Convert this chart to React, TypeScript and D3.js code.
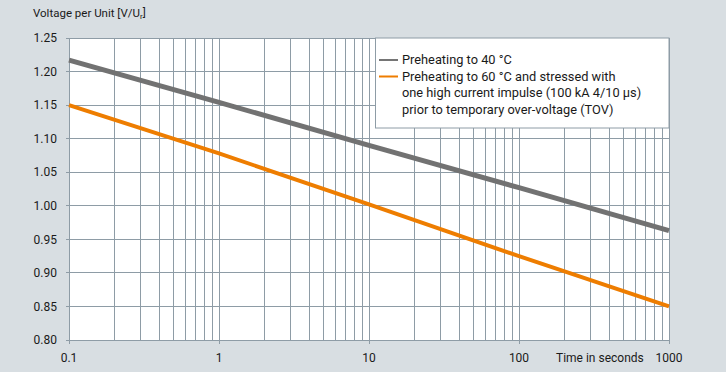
import React, { useEffect, useRef } from 'react';
import { range, scaleLinear, scaleLog, select, line } from 'd3';

const times = [0.1, 1, 10, 100, 1000];
const preheat40 = [1.217, 1.154, 1.09, 1.027, 0.963];
const preheat60 = [1.15, 1.078, 1.002, 0.925, 0.85];
const yTicks = [0.8, 0.85, 0.9, 0.95, 1.0, 1.05, 1.1, 1.15, 1.2, 1.25];
const xTickLabels = ['0.1', '1', '10', '100', '1000'];
const legendLines = [
  'Preheating to 40 °C',
  'Preheating to 60 °C and stressed with',
  'one high current impulse (100 kA 4/10 µs)',
  'prior to temporary over-voltage (TOV)',
];

const W = 726;
const H = 372;
const FONT = 'Roboto, "Noto Sans", sans-serif';
const GRID = '#8e9ca6';

function renderChart(el: SVGSVGElement) {
  const svg = select(el);
  svg.selectAll('*').remove();

  const x = scaleLog().domain([0.1, 1000]).range([69, 669]);
  const y = scaleLinear().domain([0.8, 1.25]).range([340, 38]);

  svg.append('rect').attr('width', W).attr('height', H).attr('fill', '#d8dee2');
  svg
    .append('rect')
    .attr('x', x(0.1))
    .attr('y', y(1.25))
    .attr('width', x(1000) - x(0.1))
    .attr('height', y(0.8) - y(1.25))
    .attr('fill', '#ffffff');

  // vertical grid (decades + minors)
  const xs: number[] = [];
  range(-1, 3).forEach(e => {
    range(1, 10).forEach(m => xs.push(m * Math.pow(10, e)));
  });
  xs.push(1000);
  svg
    .append('g')
    .selectAll('line')
    .data(xs)
    .join('line')
    .attr('x1', d => x(d))
    .attr('x2', d => x(d))
    .attr('y1', y(1.25))
    .attr('y2', d => (times.includes(d) ? y(0.8) + 4 : y(0.8)))
    .attr('stroke', GRID)
    .attr('stroke-width', 1)
    .attr('shape-rendering', 'crispEdges');

  svg
    .append('g')
    .selectAll('line')
    .data(yTicks)
    .join('line')
    .attr('x1', x(0.1) - 3)
    .attr('x2', x(1000))
    .attr('y1', d => y(d))
    .attr('y2', d => y(d))
    .attr('stroke', GRID)
    .attr('stroke-width', 1)
    .attr('shape-rendering', 'crispEdges');

  // legend box (covers grid)
  const lg = svg.append('g');
  lg.append('rect')
    .attr('x', 375.5)
    .attr('y', y(1.25))
    .attr('width', x(1000) - 375.5)
    .attr('height', 90)
    .attr('fill', '#ffffff')
    .attr('stroke', GRID);
  lg.selectAll('text')
    .data(legendLines)
    .join('text')
    .attr('x', 402)
    .attr('y', (_, i) => 60 + i * 16.5)
    .attr('dy', '0.35em')
    .attr('font-family', FONT)
    .attr('font-size', 12.8)
    .attr('fill', '#1a1a1a')
    .text(d => d);
  lg.append('line')
    .attr('x1', 379).attr('x2', 398).attr('y1', 60).attr('y2', 60)
    .attr('stroke', '#757575').attr('stroke-width', 2);
  lg.append('line')
    .attr('x1', 379).attr('x2', 398).attr('y1', 76.5).attr('y2', 76.5)
    .attr('stroke', '#ee7d00').attr('stroke-width', 2);

  const path = line<number>()
    .x((_, i) => x(times[i]))
    .y(d => y(d));

  svg.append('path')
    .attr('d', path(preheat40))
    .attr('fill', 'none')
    .attr('stroke', '#727272')
    .attr('stroke-width', 5);
  svg.append('path')
    .attr('d', path(preheat60))
    .attr('fill', 'none')
    .attr('stroke', '#ee7d00')
    .attr('stroke-width', 4);

  // y tick labels
  svg.append('g')
    .selectAll('text')
    .data(yTicks)
    .join('text')
    .attr('x', 57)
    .attr('y', d => y(d))
    .attr('dy', '0.35em')
    .attr('text-anchor', 'end')
    .attr('font-family', FONT)
    .attr('font-size', 12)
    .attr('fill', '#1a1a1a')
    .text(d => d.toFixed(2));

  svg.append('g')
    .selectAll('text')
    .data(times)
    .join('text')
    .attr('x', d => x(d))
    .attr('y', 358)
    .attr('dy', '0.35em')
    .attr('text-anchor', 'middle')
    .attr('font-family', FONT)
    .attr('font-size', 12)
    .attr('fill', '#1a1a1a')
    .text((_, i) => xTickLabels[i]);

  svg.append('text')
    .attr('x', 556)
    .attr('y', 358)
    .attr('dy', '0.35em')
    .attr('font-family', FONT)
    .attr('font-size', 12)
    .attr('fill', '#1a1a1a')
    .text('Time in seconds');

  const yl = svg.append('text')
    .attr('x', 33)
    .attr('y', 13)
    .attr('dy', '0.35em')
    .attr('font-family', FONT)
    .attr('font-size', 11.5)
    .attr('fill', '#1a1a1a');
  yl.append('tspan').text('Voltage per Unit [V/U');
  yl.append('tspan').attr('font-size', 8).attr('dy', '0.3em').text('r');
  yl.append('tspan').attr('dy', '-0.3em').text(']');
}

export default function App() {
  const ref = useRef<SVGSVGElement>(null);
  useEffect(() => {
    document.body.style.margin = '0';
    if (ref.current) renderChart(ref.current);
  }, []);
  return <svg ref={ref} width={W} height={H} style={{ display: 'block' }} />;
}
